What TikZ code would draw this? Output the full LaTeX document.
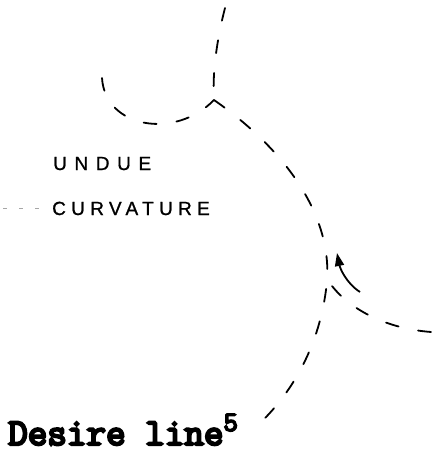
\documentclass[tikz,border=0pt]{standalone}
\usepackage{fontspec}
\newfontfamily\handfont{Liberation Sans}[FakeBold=1]
\newfontfamily\typefont{Latin Modern Mono}[FakeBold=6]
\usetikzlibrary{arrows.meta}

\begin{document}
\begin{tikzpicture}[
  x=1pt, y=-1pt,
  >={Triangle[length=13pt,width=9pt]},
  pathdash/.style={draw=black, line width=1.8pt, line cap=round, dash pattern=on 13pt off 20pt},
  faintdash/.style={draw=black!35, line width=1pt, dash pattern=on 4pt off 12pt},
  turnarrow/.style={->, draw=black, line width=1.8pt},
  handlabel/.style={anchor=base west, inner sep=0pt, font=\handfont\fontsize{19}{19}\selectfont},
  typelabel/.style={anchor=base west, inner sep=0pt, font=\typefont\fontsize{38}{38}\selectfont}
]
  \useasboundingbox (0,0) rectangle (431,455);
  \coordinate (top) at (225,8);
  \coordinate (loop) at (102,78);
  \coordinate (junc) at (214,100);
  \coordinate (bend) at (326,290);
  \coordinate (exit) at (258,425);
  \coordinate (side) at (431,332);
  \coordinate (merge) at (329,282);
  \coordinate (tail) at (360,292);
  \coordinate (tip) at (337,253);
  \coordinate (leadA) at (3,208);
  \coordinate (leadB) at (45,208);

  \draw[pathdash] (top) .. controls (218,35) and (212,70) .. (junc);
  \draw[pathdash] (loop) .. controls (105,128) and (175,140) .. (junc);
  \draw[pathdash] (junc) .. controls (300,160) and (335,230) .. (bend)
    .. controls (318,350) and (290,395) .. (exit);
  \draw[pathdash] (side) .. controls (380,328) and (345,305) .. (merge);
  \draw[turnarrow] (tail) .. controls (346,283) and (340,268) .. (tip);
  \draw[faintdash] (leadA) -- (leadB);

  \node[handlabel] (undue) at (53,170) {\addfontfeature{LetterSpace=40}UNDUE};
  \node[handlabel] (curv) at (52,215) {\addfontfeature{LetterSpace=28}CURVATURE};
  \node[typelabel] (desire) at (8,445) {Desire line\raisebox{14pt}{\fontsize{28}{28}\selectfont 5}};
\end{tikzpicture}
\end{document}
